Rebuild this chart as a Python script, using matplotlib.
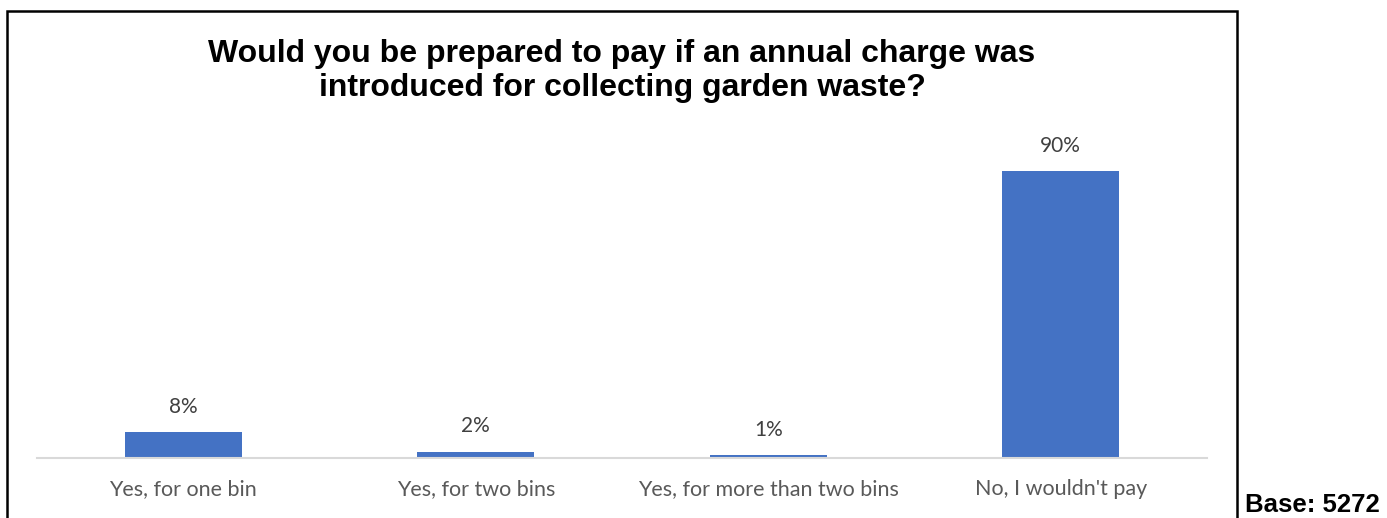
import matplotlib.pyplot as plt
from matplotlib.patches import Rectangle

categories = ["Yes, for one bin", "Yes, for two bins", "Yes, for more than two bins", "No, I wouldn't pay"]
values = [8, 2, 1, 90]
value_labels = ["8%", "2%", "1%", "90%"]
title = "Would you be prepared to pay if an annual charge was\nintroduced for collecting garden waste?"
base_note = "Base: 5272"

W, H = 1387, 518
fig = plt.figure(figsize=(W / 100, H / 100), dpi=100)

# plot area in pixel terms of the reference
ax = fig.add_axes([37 / W, (H - 458) / H, (1207 - 37) / W, (458 - 139) / H])
x = range(len(categories))
ax.bar(x, values, width=0.4, color="#4472C4")
ax.set_xlim(-0.5, 3.5)
ax.set_ylim(0, 100)

for xi, v, lab in zip(x, values, value_labels):
    ax.annotate(lab, (xi, v), xytext=(0, 11), textcoords="offset points",
                ha="center", va="bottom", fontsize=15, color="#404040",
                family="Lato")

ax.set_xticks(list(x))
ax.set_xticklabels(categories, fontsize=15.5, color="#595959", family="Lato")
ax.tick_params(axis="x", length=0, pad=15)
ax.set_yticks([])
for s in ["top", "right", "left"]:
    ax.spines[s].set_visible(False)
ax.spines["bottom"].set_color("#D9D9D9")
ax.spines["bottom"].set_linewidth(1.5)

# chart border (bottom runs off the image)
fig.patches.append(Rectangle((7 / W, -0.05), (1237 - 7) / W, 0.05 + (H - 11) / H,
                             transform=fig.transFigure, fill=False,
                             edgecolor="black", linewidth=1.8))

fig.text(622 / W, (H - 71) / H, title, ha="center", va="center",
         fontsize=23, fontweight="bold", family="Liberation Sans",
         linespacing=1.15)

fig.text(1245 / W, 1 / H, base_note, ha="left", va="bottom",
         fontsize=18.5, fontweight="bold", family="Liberation Sans")

fig.savefig("out.png", dpi=100)
